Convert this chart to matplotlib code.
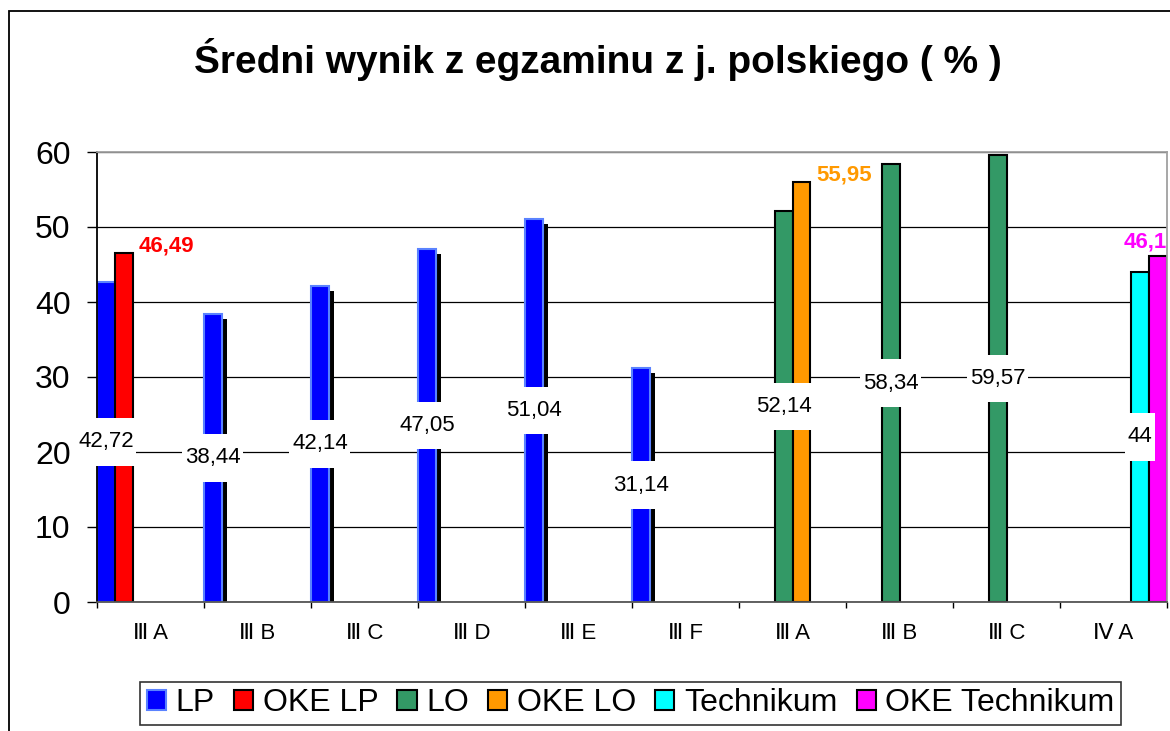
import numpy as np
import matplotlib
matplotlib.use("Agg")
import matplotlib.pyplot as plt
from matplotlib.path import Path
from matplotlib.patches import Rectangle
from matplotlib.transforms import ScaledTranslation

plt.rcParams['font.family'] = ['Liberation Sans', 'DejaVu Sans']

categories = ["Ⅲ A", "Ⅲ B", "Ⅲ C", "Ⅲ D", "Ⅲ E", "Ⅲ F", "Ⅲ A", "Ⅲ B", "Ⅲ C", "Ⅳ A"]
series_names = ["LP", "OKE LP", "LO", "OKE LO", "Technikum", "OKE Technikum"]
lp = [42.72, 38.44, 42.14, 47.05, 51.04, 31.14, None, None, None, None]
oke_lp = [46.49, None, None, None, None, None, None, None, None, None]
lo = [None, None, None, None, None, None, 52.14, 58.34, 59.57, None]
oke_lo = [None, None, None, None, None, None, 55.95, None, None, None]
technikum = [None, None, None, None, None, None, None, None, None, 44]
oke_technikum = [None, None, None, None, None, None, None, None, None, 46.1]

series = [lp, oke_lp, lo, oke_lo, technikum, oke_technikum]
colors = ["#0000ff", "#ff0000", "#339966", "#ff9900", "#00ffff", "#ff00ff"]
edges = ["#5a82ff", "black", "black", "black", "black", "black"]
oke = [False, True, False, True, False, True]


def fmt(v):
    return f"{v:g}".replace(".", ",")


def label_box(x0, y0, width, height, mutation_size):
    px = 0.12 * mutation_size
    py = 0.6 * mutation_size
    return Path([(x0 - px, y0 - py), (x0 + width + px, y0 - py),
                 (x0 + width + px, y0 + height + py), (x0 - px, y0 + height + py),
                 (x0 - px, y0 - py)], closed=True)


fig = plt.figure(figsize=(11.7, 7.31), dpi=100)
ax = fig.add_axes([97 / 1170, 129 / 731, 1070 / 1170, 450 / 731])

nslots = len(series)
w = 1 / nslots
shadow = ax.transData + ScaledTranslation(5 / 100, -5 / 100, fig.dpi_scale_trans)

for j, vals in enumerate(series):
    idx = [i for i, v in enumerate(vals) if v is not None]
    xs = [i + j * w for i in idx]
    hs = [vals[i] for i in idx]
    if j == 0:
        sb = ax.bar(xs, hs, width=w, align="edge", color="black", zorder=1.5)
        for p in sb:
            p.set_transform(shadow)
    ax.bar(xs, hs, width=w, align="edge", color=colors[j], edgecolor=edges[j],
           linewidth=1.5, zorder=2, label=series_names[j])
    for x, h in zip(xs, hs):
        if oke[j]:
            if x + w >= len(categories) - 0.01:
                ax.annotate(fmt(h), (x + w, h), xytext=(0, 3), textcoords="offset points",
                            ha="right", va="bottom", fontsize=16, fontweight="bold",
                            color=colors[j], zorder=5)
            else:
                ax.annotate(fmt(h), (x + w, h), xytext=(4, -2), textcoords="offset points",
                            ha="left", va="bottom", fontsize=16, fontweight="bold",
                            color=colors[j], zorder=5)
        else:
            ax.text(x + w / 2, h / 2, fmt(h), ha="center", va="center", fontsize=16,
                    zorder=5, bbox=dict(boxstyle=label_box, facecolor="white",
                                        edgecolor="none"))

ax.set_xlim(0, len(categories))
ax.set_ylim(0, 60)
ax.set_yticks(np.arange(0, 61, 10))
ax.set_xticks(np.arange(len(categories) + 1))
ax.set_xticklabels([])
ax.set_xticks(np.arange(len(categories)) + 0.5, minor=True)
ax.set_xticklabels(categories, minor=True)
ax.tick_params(axis="x", which="minor", length=0, pad=15, labelsize=16)
ax.tick_params(axis="x", which="major", length=4, width=1, direction="out")
ax.tick_params(axis="y", length=7, width=1, pad=12, labelsize=23)
ax.yaxis.grid(True, color="black", linewidth=0.9)
ax.set_axisbelow(True)

ax.spines["left"].set_color("black")
ax.spines["bottom"].set_color("#555555")
ax.spines["top"].set_color("#a0a0a0")
ax.spines["right"].set_color("#a0a0a0")
for s in ax.spines.values():
    s.set_linewidth(1.3)

fig.text(0.511, 0.918, "Średni wynik z egzaminu z j. polskiego ( % )",
         ha="center", va="center", fontsize=28, fontweight="bold")

leg = fig.legend(loc="center", bbox_to_anchor=(0.539, 0.038), ncol=6, fontsize=23,
                 frameon=True, fancybox=False, handlelength=0.6, handleheight=0.6,
                 handletextpad=0.3, columnspacing=0.6, borderpad=0.2)
leg.get_frame().set_edgecolor("black")
leg.get_frame().set_linewidth(1.2)

fig.patches.append(Rectangle((9 / 1170, -0.05), 1.1, 0.05 + 720 / 731,
                             transform=fig.transFigure, fill=False,
                             edgecolor="black", linewidth=1.3))

fig.savefig("out.png", dpi=100)
